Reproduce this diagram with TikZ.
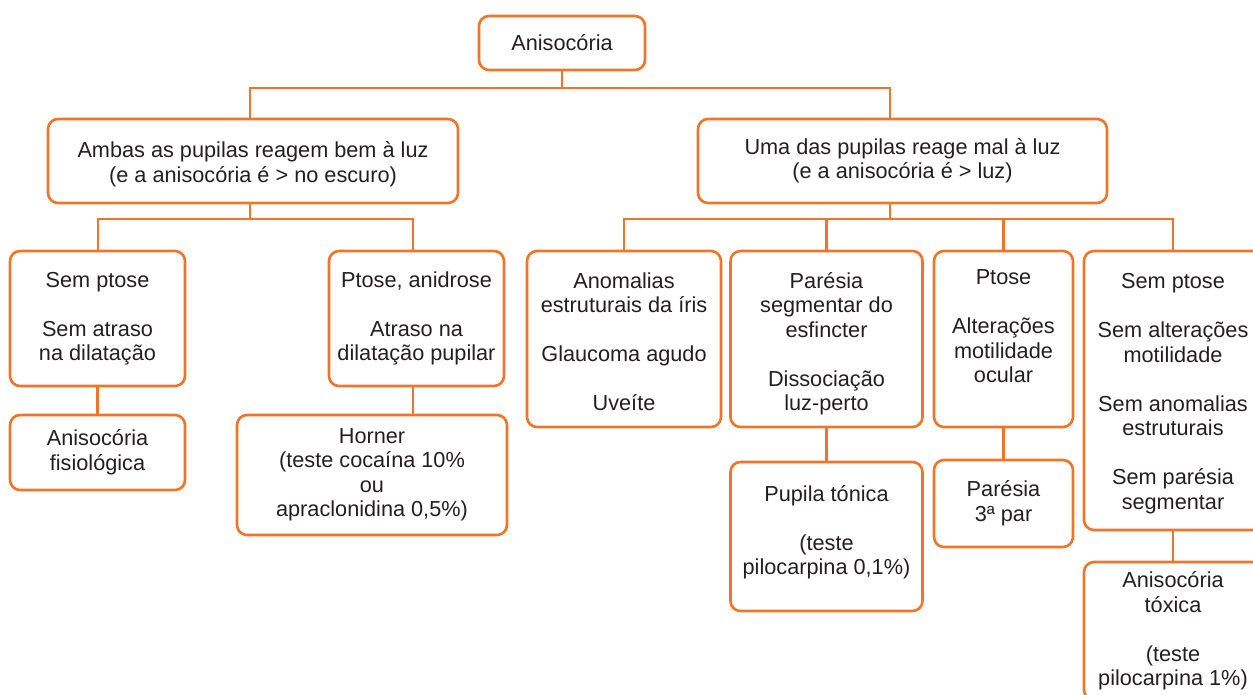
\documentclass[tikz,border=0pt]{standalone}
\usepackage{fontspec}
\setmainfont{Liberation Sans}
\definecolor{laranja}{RGB}{242,116,40}
\definecolor{texto}{RGB}{35,31,32}
\tikzset{caixa/.style={draw=laranja,line width=2.6pt,rounded corners=10pt,align=center,inner sep=0pt,text=texto,
    font=\fontsize{21.7}{24.5}\selectfont},
  liga/.style={draw=laranja,line width=2.6pt}}
\begin{document}
\begin{tikzpicture}[x=1pt,y=-1pt]
  \useasboundingbox (0,0) rectangle (1253,694);
  \node[caixa,minimum width=166,minimum height=54] (raiz) at (562,43) {Anisocória};
  \node[caixa,minimum width=410,minimum height=84] (ambas) at (253,161) {\rule{0pt}{22pt}Ambas as pupilas reagem bem à luz\\(e a anisocória é > no escuro)};
  \node[caixa,minimum width=409,minimum height=84] (uma) at (902.5,161) {Uma das pupilas reage mal à luz\\(e a anisocória é > luz)};
  \node[caixa,minimum width=175,minimum height=135] (semptose) at (97.5,318.5) {Sem ptose\\[\baselineskip]Sem atraso\\na dilatação};
  \node[caixa,minimum width=175,minimum height=135] (ptose) at (416.5,318.5) {Ptose, anidrose\\[\baselineskip]Atraso na\\dilatação pupilar};
  \node[caixa,minimum width=175,minimum height=75] (fisio) at (97.5,452.5) {Anisocória\\fisiológica};
  \node[caixa,minimum width=270,minimum height=120] (horner) at (372,475) {Horner\\(teste cocaína 10\%\\ou\\apraclonidina 0,5\%)};
  \node[caixa,minimum width=194,minimum height=176] (iris) at (624,339) {\rule{0pt}{21pt}Anomalias\\estruturais da íris\\[\baselineskip]Glaucoma agudo\\[\baselineskip]Uveíte};
  \node[caixa,minimum width=192,minimum height=176] (paresia) at (826.5,339) {\rule{0pt}{25pt}Parésia\\segmentar do\\esfincter\\[\baselineskip]Dissociação\\luz-perto};
  \node[caixa,minimum width=139,minimum height=176] (ptosemot) at (1003.5,339) {Ptose\\[\baselineskip]Alterações\\motilidade\\ocular\rule[-25pt]{0pt}{0pt}};
  \node[caixa,minimum width=178,minimum height=279] (semalt) at (1173,390.5) {\rule{0pt}{21pt}Sem ptose\\[\baselineskip]Sem alterações\\motilidade\\[\baselineskip]Sem anomalias\\estruturais\\[\baselineskip]Sem parésia\\segmentar};
  \node[caixa,minimum width=192,minimum height=149] (tonica) at (826.5,536.5) {Pupila tónica\\[\baselineskip](teste\\pilocarpina 0,1\%)\rule[-13pt]{0pt}{0pt}};
  \node[caixa,minimum width=139,minimum height=87] (terceiro) at (1003.5,503.5) {Parésia\\3ª par};
  \node[caixa,minimum width=178,minimum height=138] (toxica) at (1173,631) {Anisocória\\tóxica\\[\baselineskip](teste\\pilocarpina 1\%)};
  % ligacoes
  \coordinate (j1) at (250,88);
  \coordinate (j2) at (890,88);
  \coordinate (k1) at (98,219);
  \coordinate (k2) at (413,219);
  \path[liga] (raiz.south) -- (raiz.south |- j1);
  \path[liga] (ambas.north -| j1) -- (j1) -- (j2) -- (uma.north -| j2);
  \path[liga] (ambas.south -| j1) -- (j1 |- k1);
  \path[liga] (semptose.north -| k1) -- (k1) -- (k2) -- (ptose.north -| k2);
  \path[liga] (uma.south -| j2) -- (j2 |- k1);
  \path[liga] (iris.north) |- (semalt.north |- k1) -- (semalt.north);
  \path[liga] (paresia.north) -- (paresia.north |- k1);
  \path[liga] (ptosemot.north) -- (ptosemot.north |- k1);
  \path[liga] (semptose) -- (fisio);
  \path[liga] (ptose.south -| k2) -- (horner.north -| k2);
  \path[liga] (paresia) -- (tonica);
  \path[liga] (ptosemot) -- (terceiro);
  \path[liga] (semalt) -- (toxica);
\end{tikzpicture}
\end{document}
